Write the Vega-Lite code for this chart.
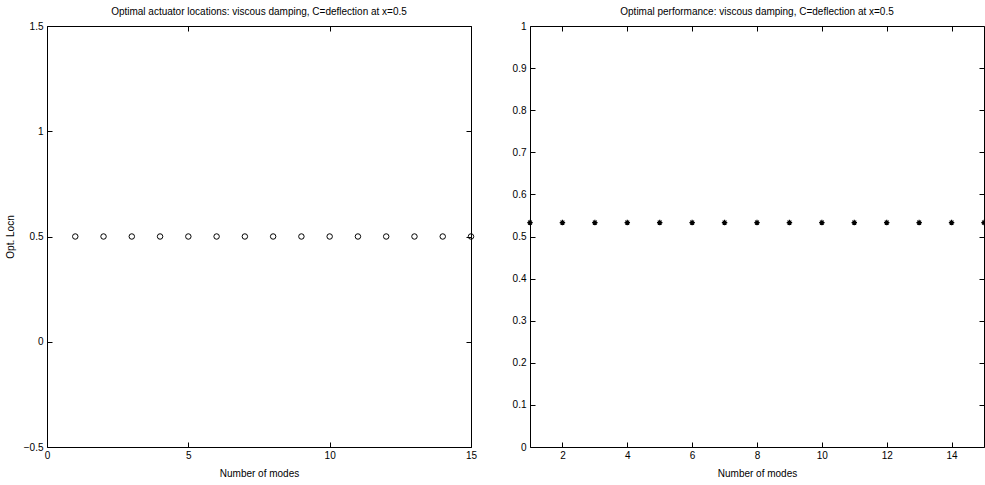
{
  "$schema": "https://vega.github.io/schema/vega-lite/v6.json",
  "background": "white",
  "padding": {"left": 4, "top": 6, "right": 0, "bottom": 0},
  "config": {
    "font": "Liberation Sans",
    "view": {"stroke": "black", "strokeWidth": 1},
    "axis": {
      "domain": false,
      "grid": false,
      "ticks": true,
      "tickColor": "black",
      "tickSize": -5,
      "tickWidth": 1,
      "labelColor": "black",
      "labelFont": "Liberation Sans",
      "labelFontSize": 10,
      "labelFlush": false,
      "labelOverlap": false,
      "titleFont": "Liberation Sans",
      "titleFontSize": 10,
      "titleFontWeight": "normal",
      "titleColor": "black"
    },
    "axisBottom": {"labelPadding": 8},
    "axisLeft": {"labelPadding": 9},
    "title": {"font": "Liberation Sans", "fontSize": 10, "fontWeight": "normal", "color": "black", "anchor": "middle", "offset": 4}
  },
  "datasets": {
    "locn": [
      {"modes": 1, "locn": 0.5}, {"modes": 2, "locn": 0.5}, {"modes": 3, "locn": 0.5},
      {"modes": 4, "locn": 0.5}, {"modes": 5, "locn": 0.5}, {"modes": 6, "locn": 0.5},
      {"modes": 7, "locn": 0.5}, {"modes": 8, "locn": 0.5}, {"modes": 9, "locn": 0.5},
      {"modes": 10, "locn": 0.5}, {"modes": 11, "locn": 0.5}, {"modes": 12, "locn": 0.5},
      {"modes": 13, "locn": 0.5}, {"modes": 14, "locn": 0.5}, {"modes": 15, "locn": 0.5}
    ],
    "perf": [
      {"modes": 1, "perf": 0.533}, {"modes": 2, "perf": 0.533}, {"modes": 3, "perf": 0.533},
      {"modes": 4, "perf": 0.533}, {"modes": 5, "perf": 0.533}, {"modes": 6, "perf": 0.533},
      {"modes": 7, "perf": 0.533}, {"modes": 8, "perf": 0.533}, {"modes": 9, "perf": 0.533},
      {"modes": 10, "perf": 0.533}, {"modes": 11, "perf": 0.533}, {"modes": 12, "perf": 0.533},
      {"modes": 13, "perf": 0.533}, {"modes": 14, "perf": 0.533}, {"modes": 15, "perf": 0.533}
    ]
  },
  "bounds": "flush",
  "spacing": 59,
  "hconcat": [
    {
      "title": "Optimal actuator locations: viscous damping, C=deflection at x=0.5",
      "width": 424,
      "height": 421,
      "data": {"name": "locn"},
      "layer": [
        {
          "mark": {"type": "point", "shape": "circle", "filled": false, "stroke": "black", "strokeWidth": 1, "size": 30, "opacity": 1, "clip": false},
          "encoding": {
            "x": {"field": "modes", "type": "quantitative", "scale": {"domain": [0, 15], "nice": false, "zero": false},
                  "axis": {"orient": "bottom", "values": [0, 5, 10, 15], "format": "~g", "title": "Number of modes", "titlePadding": 8}},
            "y": {"field": "locn", "type": "quantitative", "scale": {"domain": [-0.5, 1.5], "nice": false, "zero": false},
                  "axis": {"orient": "left", "values": [-0.5, 0, 0.5, 1, 1.5], "format": "~g", "title": "Opt. Locn", "titlePadding": 8}}
          }
        },
        {
          "mark": {"type": "point", "opacity": 0},
          "encoding": {
            "x": {"field": "modes", "type": "quantitative", "axis": {"orient": "top", "values": [0, 5, 10, 15], "labels": false, "title": null}},
            "y": {"field": "locn", "type": "quantitative", "axis": {"orient": "right", "values": [-0.5, 0, 0.5, 1, 1.5], "labels": false, "title": null}}
          }
        }
      ],
      "resolve": {"axis": {"x": "independent", "y": "independent"}}
    },
    {
      "title": "Optimal performance: viscous damping, C=deflection at x=0.5",
      "width": 454,
      "height": 421,
      "data": {"name": "perf"},
      "layer": [
        {
          "mark": {"type": "point", "shape": "M0,-1L0,1M-1,0L1,0M-0.7,-0.7L0.7,0.7M-0.7,0.7L0.7,-0.7", "filled": false, "stroke": "black", "strokeWidth": 1.2, "size": 30, "opacity": 1, "clip": false},
          "encoding": {
            "x": {"field": "modes", "type": "quantitative", "scale": {"domain": [1, 15], "nice": false, "zero": false},
                  "axis": {"orient": "bottom", "values": [2, 4, 6, 8, 10, 12, 14], "format": "~g", "title": "Number of modes", "titlePadding": 8}},
            "y": {"field": "perf", "type": "quantitative", "scale": {"domain": [0, 1], "nice": false, "zero": false},
                  "axis": {"orient": "left", "values": [0, 0.1, 0.2, 0.3, 0.4, 0.5, 0.6, 0.7, 0.8, 0.9, 1], "format": "~g", "title": null}}
          }
        },
        {
          "mark": {"type": "point", "opacity": 0},
          "encoding": {
            "x": {"field": "modes", "type": "quantitative", "axis": {"orient": "top", "values": [2, 4, 6, 8, 10, 12, 14], "labels": false, "title": null}},
            "y": {"field": "perf", "type": "quantitative", "axis": {"orient": "right", "values": [0, 0.1, 0.2, 0.3, 0.4, 0.5, 0.6, 0.7, 0.8, 0.9, 1], "labels": false, "title": null}}
          }
        }
      ],
      "resolve": {"axis": {"x": "independent", "y": "independent"}}
    }
  ]
}
